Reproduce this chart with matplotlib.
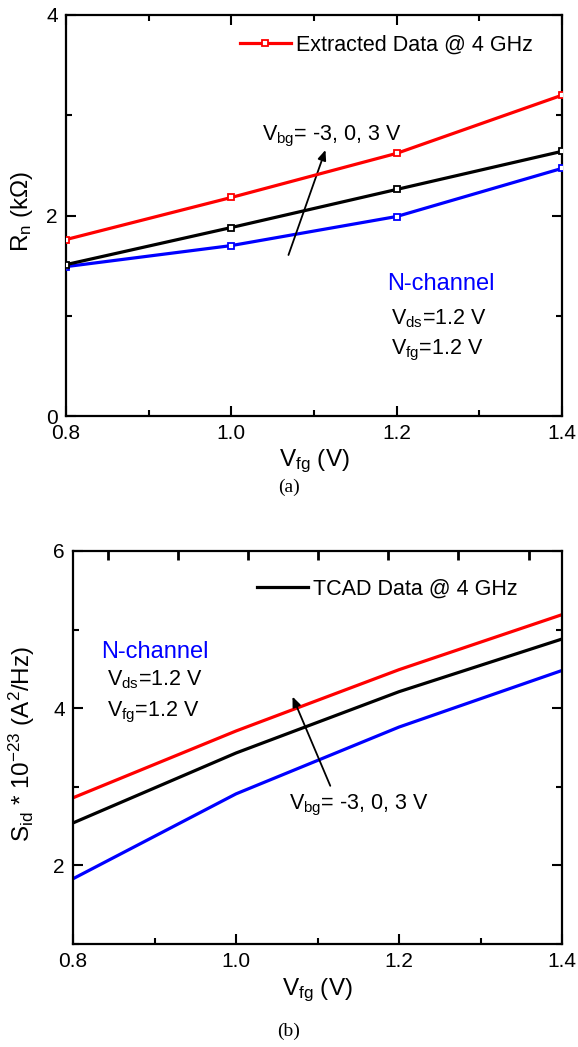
import matplotlib
matplotlib.use("Agg")
import matplotlib.pyplot as plt
from matplotlib.ticker import MultipleLocator

plt.rcParams['font.family'] = ['Liberation Sans', 'DejaVu Sans']
plt.rcParams['mathtext.fontset'] = 'custom'
plt.rcParams['mathtext.rm'] = 'Liberation Sans'
plt.rcParams['mathtext.it'] = 'Liberation Sans:italic'
plt.rcParams['mathtext.bf'] = 'Liberation Sans:bold'

# ---- data (a): extracted noise resistance ----
vfg = [0.8, 1.0, 1.2, 1.4]
rn_vbg_p3 = [1.76, 2.18, 2.62, 3.20]   # red
rn_vbg_0 = [1.51, 1.88, 2.26, 2.64]    # black
rn_vbg_m3 = [1.49, 1.70, 1.99, 2.47]   # blue

# ---- data (b): TCAD drain current noise ----
sid_vbg_p3 = [2.86, 3.71, 4.49, 5.19]  # red
sid_vbg_0 = [2.54, 3.43, 4.21, 4.88]   # black
sid_vbg_m3 = [1.83, 2.91, 3.76, 4.48]  # blue

# top-axis tick positions of panel (b) (not aligned with bottom axis)
top_ticks_b = [0.843, 0.929, 1.015, 1.101, 1.187, 1.273, 1.359]

W, H = 578, 1047
fig = plt.figure(figsize=(W / 100, H / 100), dpi=100)

def px_axes(x0, y0, x1, y1):
    return fig.add_axes([x0 / W, 1 - y1 / H, (x1 - x0) / W, (y1 - y0) / H])

ax1 = px_axes(66, 15, 562, 416)
ax2 = px_axes(73, 551, 562, 944)

LW = 2.3
for ax in (ax1, ax2):
    for s in ax.spines.values():
        s.set_linewidth(1.6)
    ax.tick_params(which='both', direction='in', top=True, right=True,
                   width=1.5, labelsize=15, pad=6)
    ax.tick_params(which='major', length=7)
    ax.tick_params(which='minor', length=4.5)
    ax.set_xlim(0.8, 1.4)
    ax.xaxis.set_major_locator(MultipleLocator(0.2))
    ax.xaxis.set_minor_locator(MultipleLocator(0.1))
    ax.xaxis.set_major_formatter(matplotlib.ticker.FormatStrFormatter('%.1f'))

# ---------- (a) ----------
mk = dict(marker='s', markersize=5, markerfacecolor='white', markeredgewidth=1.3)
ax1.plot(vfg, rn_vbg_m3, color='#0000ff', lw=LW, **mk, zorder=3)
ax1.plot(vfg, rn_vbg_0, color='black', lw=LW, **mk, zorder=3)
l1, = ax1.plot(vfg, rn_vbg_p3, color='#ff0000', lw=LW, **mk, zorder=4,
               label='Extracted Data @ 4 GHz')
ax1.set_ylim(0, 4)
ax1.yaxis.set_major_locator(MultipleLocator(2))
ax1.yaxis.set_minor_locator(MultipleLocator(1))
ax1.legend(handles=[l1], loc='upper left', bbox_to_anchor=(0.351, 0.951),
           frameon=False, fontsize=15.5, handlelength=2.35, handletextpad=0.25,
           borderpad=0, borderaxespad=0)
ax1.annotate('', xy=(1.115, 2.68), xytext=(1.068, 1.58),
             arrowprops=dict(arrowstyle='-|>,head_length=0.6,head_width=0.25',
                             color='black', lw=1.3))
ax1.text(1.037, 2.79, r'V$_{\rm bg}$= -3, 0, 3 V', fontsize=15.5, va='center', ha='left')
ax1.text(1.189, 1.32, 'N-channel', color='#0000ff', fontsize=17, va='center', ha='left')
ax1.text(1.193, 0.97, r'V$_{\rm ds}$=1.2 V', fontsize=15.5, va='center', ha='left')
ax1.text(1.193, 0.65, r'V$_{\rm fg}$=1.2 V', fontsize=15.5, va='center', ha='left')
ax1.set_xlabel(r'V$_{\rm fg}$ (V)', fontsize=17.5, va='top')
ax1.xaxis.set_label_coords(0.5, -0.078)
ax1.set_ylabel(r'R$_{\rm n}$ (k$\Omega$)', fontsize=17.5, va='center')
ax1.yaxis.set_label_coords(-0.089, 0.51)
fig.text(289 / W, 1 - 487 / H, '(a)', family='Liberation Serif', fontsize=14,
         ha='center', va='center')

# ---------- (b) ----------
ax2.plot(vfg, sid_vbg_p3, color='#ff0000', lw=LW)
l2, = ax2.plot(vfg, sid_vbg_0, color='black', lw=LW, label='TCAD Data @ 4 GHz')
ax2.plot(vfg, sid_vbg_m3, color='#0000ff', lw=LW)
ax2.set_ylim(1, 6)
ax2.yaxis.set_major_locator(MultipleLocator(2))
ax2.yaxis.set_minor_locator(MultipleLocator(1))
ax2.tick_params(which='both', top=False)
# inward tick marks on the top spine of panel (b)
ax2.vlines(top_ticks_b, 1 - 9 / 393, 1, transform=ax2.get_xaxis_transform(),
           colors='black', linewidth=2.0, clip_on=False, zorder=5)

ax2.legend(handles=[l2], loc='upper left', bbox_to_anchor=(0.377, 0.93),
           frameon=False, fontsize=15.5, handlelength=2.35, handletextpad=0.25,
           borderpad=0, borderaxespad=0)
ax2.annotate('', xy=(1.068, 4.18), xytext=(1.117, 2.98),
             arrowprops=dict(arrowstyle='-|>,head_length=0.6,head_width=0.25',
                             color='black', lw=1.3))
ax2.text(1.065, 2.76, r'V$_{\rm bg}$= -3, 0, 3 V', fontsize=15.5, va='center', ha='left')
ax2.text(0.835, 4.72, 'N-channel', color='#0000ff', fontsize=17, va='center', ha='left')
ax2.text(0.842, 4.36, r'V$_{\rm ds}$=1.2 V', fontsize=15.5, va='center', ha='left')
ax2.text(0.842, 3.95, r'V$_{\rm fg}$=1.2 V', fontsize=15.5, va='center', ha='left')
ax2.set_xlabel(r'V$_{\rm fg}$ (V)', fontsize=17.5, va='top')
ax2.xaxis.set_label_coords(0.5, -0.083)
ax2.set_ylabel(r'S$_{\rm id}$ * 10$^{-23}$ (A$^{2}$/Hz)', fontsize=17.5, va='center')
ax2.yaxis.set_label_coords(-0.104, 0.51)
fig.text(289 / W, 1 - 1031 / H, '(b)', family='Liberation Serif', fontsize=14,
         ha='center', va='center')

fig.savefig('out.png', dpi=100)
